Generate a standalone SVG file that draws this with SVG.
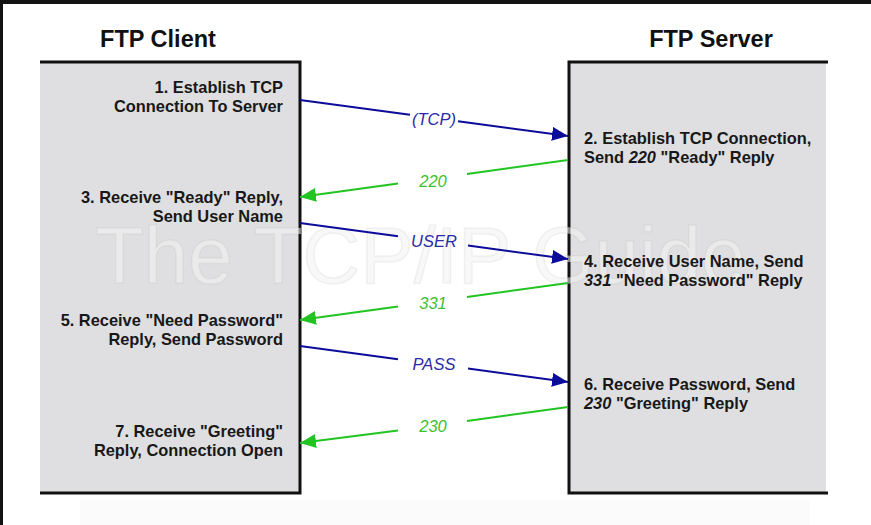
<svg xmlns="http://www.w3.org/2000/svg" width="871" height="525" viewBox="0 0 871 525">
<style>
.title{font-family:"Liberation Sans",Arial,sans-serif;font-weight:bold;font-size:23.5px;fill:#111;text-anchor:middle}
.step{font-family:"Liberation Sans",Arial,sans-serif;font-weight:bold;font-size:16.4px;fill:#181818}
.cl{text-anchor:end}
.it{font-style:italic}
.lbl{font-family:"Liberation Sans",Arial,sans-serif;font-style:italic;font-size:16.5px;text-anchor:middle}
.lb{fill:#2a2aa8}
.lg{fill:#3cbf2c}
.blue{stroke:#0c0c9a;stroke-width:2;fill:none}
.green{stroke:#22c422;stroke-width:2;fill:none}
.box{fill:#dfdfe1}
.edge{stroke:#111;stroke-width:3;fill:none}
</style>
<defs>
<marker id="ab" markerUnits="userSpaceOnUse" markerWidth="17" markerHeight="15" refX="16" refY="7" orient="auto"><path d="M0,0 L16,7 L0,14 z" fill="#0c0c9a"/></marker>
<marker id="ag" markerUnits="userSpaceOnUse" markerWidth="17" markerHeight="15" refX="16" refY="7" orient="auto"><path d="M0,0 L16,7 L0,14 z" fill="#22c422"/></marker>
</defs>
<rect width="871" height="525" fill="#ffffff"/>
<rect x="80" y="500" width="730" height="25" fill="#fbfbfb"/>
<rect x="0" y="0" width="871" height="4" fill="#121212"/>
<rect x="0" y="0" width="3" height="525" fill="#121212"/>

<g id="client">
<rect class="box" x="40" y="62" width="260" height="431"/>
<path class="edge" d="M40,62 H300 V493 H40"/>
<text class="title" x="158" y="47">FTP Client</text>
</g>
<g id="server">
<rect class="box" x="569" y="62" width="257" height="431"/>
<path class="edge" d="M828,62 H569 V493 H828"/>
<text class="title" x="711" y="47">FTP Server</text>
</g>

<text x="95" y="283" font-family="Liberation Sans,Arial,sans-serif" font-size="80" fill="#f2f2f2" fill-opacity="0.55" stroke="#999" stroke-opacity="0.12" stroke-width="1.5">The TCP/IP Guide</text>

<g id="step1"><text class="step cl" x="283" y="93">1. Establish TCP</text><text class="step cl" x="283" y="112">Connection To Server</text></g>
<g id="step3"><text class="step cl" x="283" y="203">3. Receive "Ready" Reply,</text><text class="step cl" x="283" y="222">Send User Name</text></g>
<g id="step5"><text class="step cl" x="283" y="326">5. Receive "Need Password"</text><text class="step cl" x="283" y="345">Reply, Send Password</text></g>
<g id="step7"><text class="step cl" x="283" y="437">7. Receive "Greeting"</text><text class="step cl" x="283" y="456">Reply, Connection Open</text></g>
<g id="step2"><text class="step" x="584" y="144">2. Establish TCP Connection,</text><text class="step" x="584" y="163">Send <tspan class="it">220</tspan> "Ready" Reply</text></g>
<g id="step4"><text class="step" x="584" y="267">4. Receive User Name, Send</text><text class="step" x="584" y="286"><tspan class="it">331</tspan> "Need Password" Reply</text></g>
<g id="step6"><text class="step" x="584" y="390">6. Receive Password, Send</text><text class="step" x="584" y="409"><tspan class="it">230</tspan> "Greeting" Reply</text></g>

<g id="connectors">
<path class="blue" d="M300,100 L410,114.8"/><path class="blue" d="M458,121.2 L568,136" marker-end="url(#ab)"/>
<text class="lbl lb" x="434" y="125">(TCP)</text>
<path class="green" d="M568,160 L467,174"/><path class="green" d="M398,183.5 L300,197" marker-end="url(#ag)"/>
<text class="lbl lg" x="433" y="187">220</text>
<path class="blue" d="M300,223 L398,236.2"/><path class="blue" d="M468,245.6 L568,259" marker-end="url(#ab)"/>
<text class="lbl lb" x="434" y="247">USER</text>
<path class="green" d="M568,283 L467,297"/><path class="green" d="M398,306.5 L300,320" marker-end="url(#ag)"/>
<text class="lbl lg" x="433" y="309">331</text>
<path class="blue" d="M300,346 L398,359.2"/><path class="blue" d="M468,368.6 L568,382" marker-end="url(#ab)"/>
<text class="lbl lb" x="434" y="370">PASS</text>
<path class="green" d="M568,407 L467,421"/><path class="green" d="M398,430.5 L300,443" marker-end="url(#ag)"/>
<text class="lbl lg" x="433" y="432">230</text>
</g>
</svg>
